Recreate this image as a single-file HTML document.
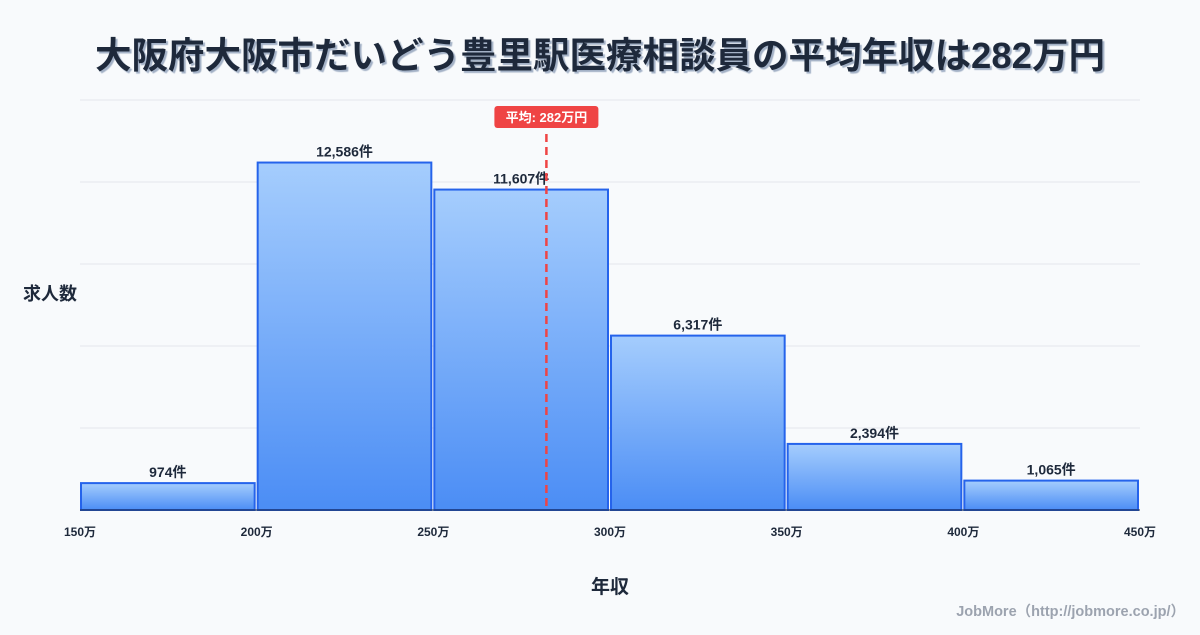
<!DOCTYPE html>
<html><head><meta charset="utf-8"><style>
body{margin:0;background:#f8fafc;width:1200px;height:630px;overflow:hidden;font-family:"Liberation Sans","Noto Sans CJK JP",sans-serif}
svg text{font-family:"Liberation Sans","Noto Sans CJK JP",sans-serif}
</style></head><body>
<svg id="chart" width="1200" height="630">
<defs><linearGradient id="g" x1="0" y1="0" x2="0" y2="1"><stop offset="0" stop-color="#a5cdfd"/><stop offset="1" stop-color="#4b8df5"/></linearGradient></defs>
<text x="600" y="68" text-anchor="middle" font-size="36.5" font-weight="bold" fill="#1e293b" style="text-shadow:2px 2px 1px #a3b1c6">大阪府大阪市だいどう豊里駅医療相談員の平均年収は282万円</text>
<text x="50" y="300" text-anchor="middle" font-size="18" font-weight="bold" fill="#1e293b">求人数</text>
<text x="610" y="593" text-anchor="middle" font-size="19" font-weight="bold" fill="#1e293b">年収</text>
<text x="1185" y="616" text-anchor="end" font-size="14.5" font-weight="bold" fill="#9ca3af">JobMore（http://jobmore.co.jp/）</text>
<g id="grid"></g><g id="bars"></g><g id="xt"></g><g id="avg"></g>
</svg>
<script>
const binStarts=[150,200,250,300,350,400];
const counts=[974,12586,11607,6317,2394,1065];
const xTicks=[150,200,250,300,350,400,450];
const avgValue=282;
const NS="http://www.w3.org/2000/svg";
const x0=80,x1=1140,xmin=150,xmax=450,yb=510,yh=410,ymax=Math.max(...counts)*1.18;
const X=v=>x0+(v-xmin)/(xmax-xmin)*(x1-x0);
const Y=v=>yb-v/ymax*yh;
function mk(t,a,p){const e=document.createElementNS(NS,t);for(const k in a)e.setAttribute(k,a[k]);p.appendChild(e);return e;}
const grid=document.getElementById('grid');
for(let i=0;i<=5;i++){const y=yb-i*yh/5;const l=mk('line',{x1:x0,x2:x1,y1:y,y2:y,stroke:'#e5e7eb','stroke-width':1},grid);

}
const bars=document.getElementById('bars');
binStarts.forEach((s,i)=>{const xa=X(s)+1,xb=X(s+50)-2,y=Y(counts[i]);
const r=mk('rect',{x:xa,y:y,width:xb-xa,height:yb-y,fill:'url(#g)',stroke:'#2563eb','stroke-width':2},bars);


const t=mk('text',{x:(xa+xb)/2,y:y-6,'text-anchor':'middle','font-size':14,'font-weight':'bold',fill:'#1e293b'},bars);
t.textContent=counts[i].toLocaleString('en-US')+'件';

});
mk('line',{x1:x0,x2:x1,y1:yb,y2:yb,stroke:'#1e293b','stroke-width':1},bars);
const xt=document.getElementById('xt');
xTicks.forEach(v=>{const t=mk('text',{x:X(v),y:536,'text-anchor':'middle','font-size':12,'font-weight':'bold',fill:'#1e293b'},xt);
t.textContent=v+'万';

});
const av=document.getElementById('avg'),ax=X(avgValue);
const al=mk('line',{x1:ax,x2:ax,y1:134,y2:yb,stroke:'#ef4444','stroke-width':2.5,'stroke-dasharray':'8,5'},av);


const ab=mk('rect',{x:ax-52,y:106,width:104,height:22,rx:3,fill:'#ef4444'},av);


const at=mk('text',{x:ax,y:122,'text-anchor':'middle','font-size':13,'font-weight':'bold',fill:'#fff'},av);
at.textContent='平均: '+avgValue+'万円';


</script>
</body></html>
